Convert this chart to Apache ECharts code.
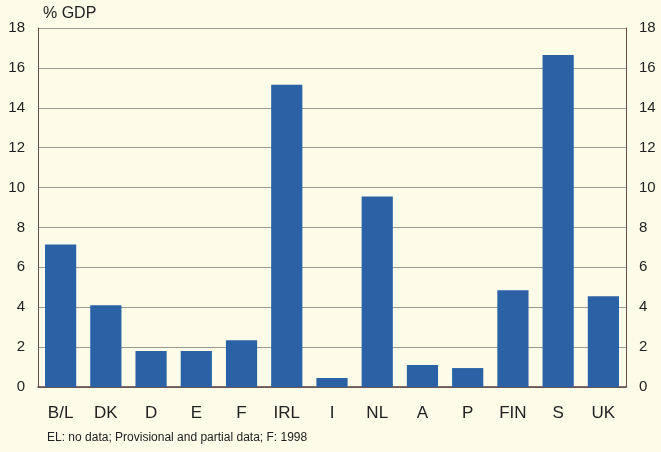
<!DOCTYPE html>
<html><head><meta charset="utf-8">
<script src="https://cdn.jsdelivr.net/npm/echarts@6/dist/echarts.min.js"></script>
<style>html,body{margin:0;padding:0;background:#fcfce8;}#c{width:661px;height:452px;}</style>
</head><body><div id="c"></div>
<script>
const categories = ['B/L','DK','D','E','F','IRL','I','NL','A','P','FIN','S','UK'];
const values = [7.15, 4.1, 1.8, 1.8, 2.35, 15.15, 0.45, 9.55, 1.1, 0.95, 4.85, 16.65, 4.55];
const yMin = 0, yMax = 18, yStep = 2;
const unitLabel = '% GDP';
const footnote = 'EL: no data; Provisional and partial data; F: 1998';

const font = 'Liberation Sans, Arial, sans-serif';
const yAxisCommon = {
  type: 'value', min: yMin, max: yMax, interval: yStep,
  axisLine: { show: true, lineStyle: { color: '#6b4a4a', width: 1 } },
  axisTick: { show: false },
  axisLabel: { color: '#222', fontSize: 15, fontFamily: font, margin: 13 },
  splitLine: { show: true, lineStyle: { color: '#9a9a90', width: 1 } }
};
const chart = echarts.init(document.getElementById('c'));
chart.setOption({
  backgroundColor: '#fcfce8',
  animation: false,
  grid: { left: 38, right: 35, top: 28, bottom: 65, containLabel: false },
  title: [
    { text: unitLabel, left: 43, top: 6, padding: 0, textStyle: { fontSize: 16, fontWeight: 'normal', color: '#222', fontFamily: font } },
    { text: footnote, left: 47, top: 432, padding: 0, textStyle: { fontSize: 12, fontWeight: 'normal', color: '#222', fontFamily: font } }
  ],
  xAxis: {
    type: 'category', data: categories,
    axisLine: { show: true, lineStyle: { color: '#5a4040', width: 1.5 } },
    axisTick: { show: false },
    axisLabel: { color: '#222', fontSize: 17, fontFamily: font, margin: 18 }
  },
  yAxis: [
    Object.assign({}, yAxisCommon, { position: 'left' }),
    Object.assign({}, yAxisCommon, { position: 'right', splitLine: { show: false } })
  ],
  series: [{
    type: 'bar', data: values, barWidth: '69%',
    itemStyle: { color: '#2b62a6' }
  }]
});
</script></body></html>
